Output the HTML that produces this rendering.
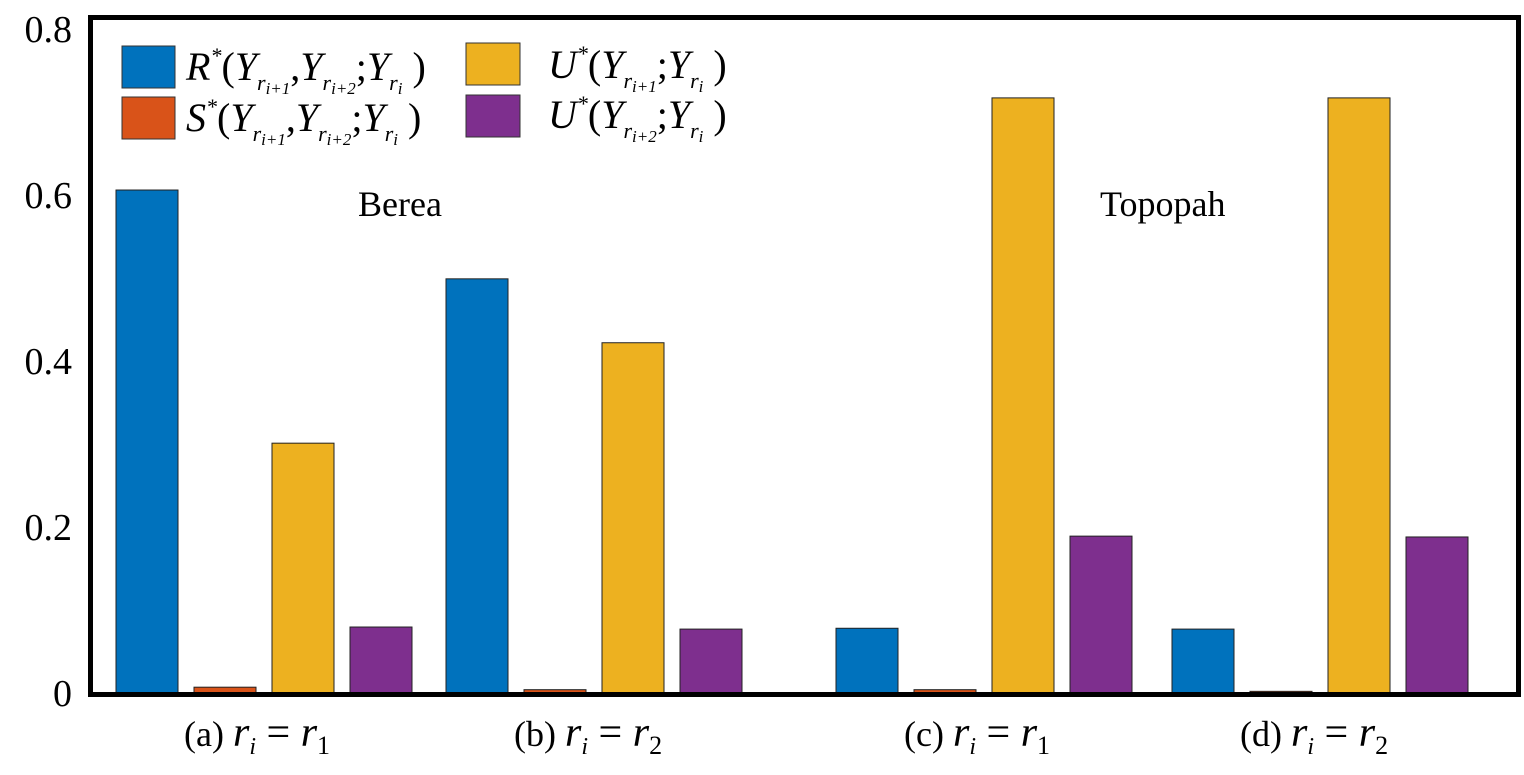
<!DOCTYPE html>
<html><head><meta charset="utf-8"><style>
body{margin:0;background:#fff}
svg text{font-family:"Liberation Serif",serif;fill:#000}
</style></head><body>
<svg id="c" width="1524" height="770">
<g id="bars"></g>
<rect x="90.5" y="17.5" width="1428" height="677" fill="none" stroke="#000" stroke-width="5"/>
<g font-size="38" text-anchor="end" id="yax"></g>
<g font-size="40">
<g><rect x="122" y="46" width="53" height="42" fill="#0072BD" stroke="#333"/><text x="186" y="80" font-style="italic">R<tspan font-size="22" dy="-17">*</tspan><tspan font-style="normal" dy="17">(</tspan>Y<tspan font-size="22" dy="10">r</tspan><tspan font-size="17" dy="4">i+1</tspan><tspan font-style="normal" dy="-14">,</tspan>Y<tspan font-size="22" dy="10">r</tspan><tspan font-size="17" dy="4">i+2</tspan><tspan font-style="normal" dy="-14">;</tspan>Y<tspan font-size="22" dy="10">r</tspan><tspan font-size="17" dy="4">i</tspan><tspan font-style="normal" dy="-14"> )</tspan></text></g>
<g><rect x="122" y="97" width="53" height="42" fill="#D95319" stroke="#333"/><text x="186" y="131" font-style="italic">S<tspan font-size="22" dy="-17">*</tspan><tspan font-style="normal" dy="17">(</tspan>Y<tspan font-size="22" dy="10">r</tspan><tspan font-size="17" dy="4">i+1</tspan><tspan font-style="normal" dy="-14">,</tspan>Y<tspan font-size="22" dy="10">r</tspan><tspan font-size="17" dy="4">i+2</tspan><tspan font-style="normal" dy="-14">;</tspan>Y<tspan font-size="22" dy="10">r</tspan><tspan font-size="17" dy="4">i</tspan><tspan font-style="normal" dy="-14"> )</tspan></text></g>
<g><rect x="466" y="43" width="54" height="42" fill="#EDB120" stroke="#333"/><text x="548" y="78" font-style="italic">U<tspan font-size="22" dy="-17">*</tspan><tspan font-style="normal" dy="17">(</tspan>Y<tspan font-size="22" dy="10">r</tspan><tspan font-size="17" dy="4">i+1</tspan><tspan font-style="normal" dy="-14">;</tspan>Y<tspan font-size="22" dy="10">r</tspan><tspan font-size="17" dy="4">i</tspan><tspan font-style="normal" dy="-14"> )</tspan></text></g>
<g><rect x="466" y="95" width="54" height="42" fill="#7E2F8E" stroke="#333"/><text x="548" y="128" font-style="italic">U<tspan font-size="22" dy="-17">*</tspan><tspan font-style="normal" dy="17">(</tspan>Y<tspan font-size="22" dy="10">r</tspan><tspan font-size="17" dy="4">i+2</tspan><tspan font-style="normal" dy="-14">;</tspan>Y<tspan font-size="22" dy="10">r</tspan><tspan font-size="17" dy="4">i</tspan><tspan font-style="normal" dy="-14"> )</tspan></text></g>
</g>
<text x="358" y="216" font-size="36">Berea</text>
<text x="1100" y="216" font-size="36">Topopah</text>
<g id="xax" font-size="36"></g>
</svg>
<script>
const categories=["(a)","(b)","(c)","(d)"];
const subs=["1","2","1","2"];
const seriesR=[0.606,0.499,0.078,0.077];
const seriesS=[0.007,0.004,0.004,0.002];
const seriesU1=[0.301,0.422,0.717,0.717];
const seriesU2=[0.0795,0.077,0.189,0.188];
const yTicks=[0,0.2,0.4,0.6,0.8];
const yTickLabels=["0","0.2","0.4","0.6","0.8"];
const groupStart=[116,446,836,1172];
const colors=["#0072BD","#D95319","#EDB120","#7E2F8E"];
const names=["r","s","u1","u2"];
const y=v=>693-v*830;
const NS="http://www.w3.org/2000/svg";
const bars=document.getElementById('bars');
[seriesR,seriesS,seriesU1,seriesU2].forEach((s,si)=>{
 s.forEach((v,gi)=>{
  const r=document.createElementNS(NS,'rect');
  r.setAttribute('x',groupStart[gi]+si*78);
  r.setAttribute('y',y(v));
  r.setAttribute('width',62);
  r.setAttribute('height',693-y(v));
  r.setAttribute('fill',colors[si]);
  r.setAttribute('stroke','#222');
  r.setAttribute('stroke-width','1');
  
  
  bars.appendChild(r);
 });
});
const yax=document.getElementById('yax');
yTicks.forEach((t,i)=>{
 const tx=document.createElementNS(NS,'text');
 tx.setAttribute('x',72);tx.setAttribute('y',y(t)+13);
 tx.textContent=yTickLabels[i];
 
 
 yax.appendChild(tx);
});
const xax=document.getElementById('xax');
categories.forEach((c,i)=>{
 const tx=document.createElementNS(NS,'text');
 tx.setAttribute('x',groupStart[i]+68);tx.setAttribute('y',746);
 tx.setAttribute('xml:space','preserve');
 tx.innerHTML=c+'   <tspan font-style="italic" font-size="42">r</tspan><tspan font-style="italic" font-size="24" dy="8">i</tspan><tspan dy="-8" font-size="42"> = </tspan><tspan font-style="italic" font-size="42">r</tspan><tspan font-size="26" dy="8">'+subs[i]+'</tspan>';
 
 
 xax.appendChild(tx);
});
</script>
</body></html>
